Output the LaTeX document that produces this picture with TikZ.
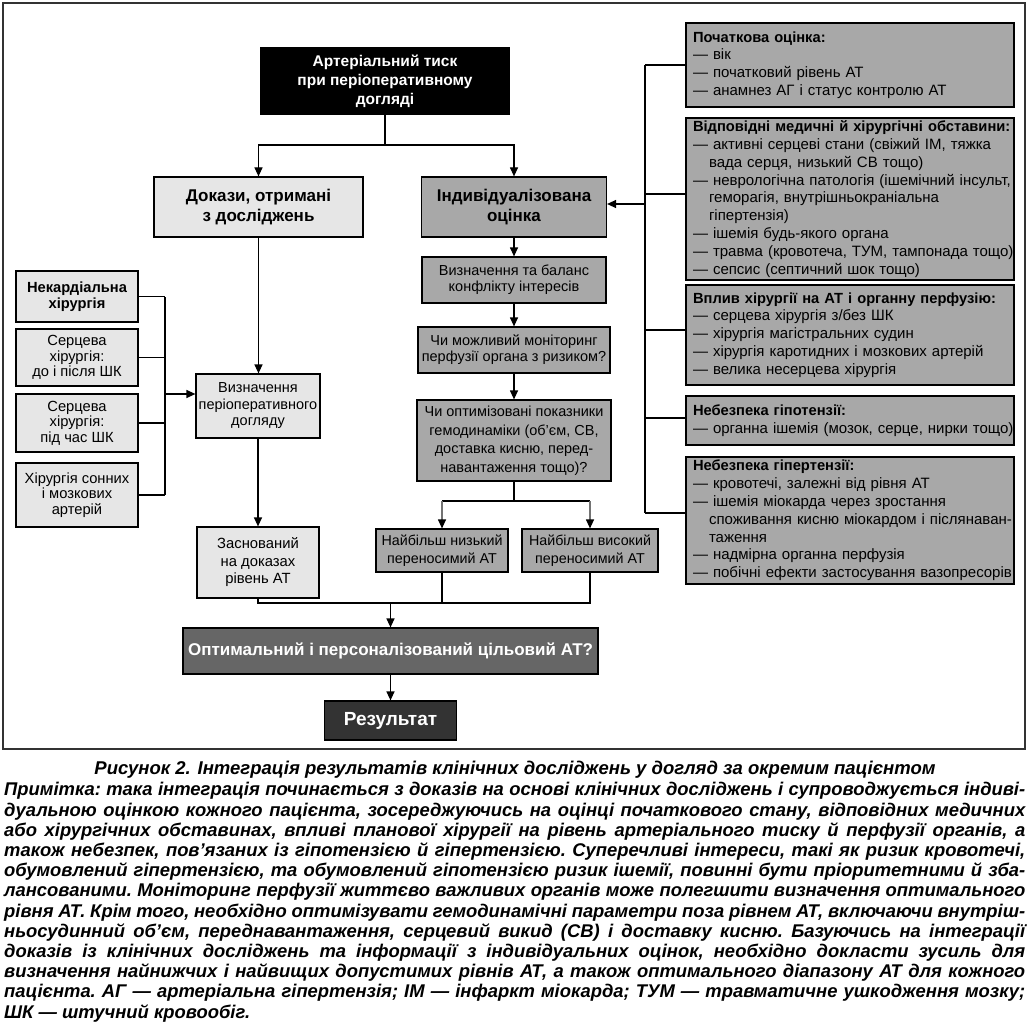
\documentclass[tikz,border=0pt]{standalone}
\usepackage{fontspec}
\setmainfont{Liberation Sans}
\usetikzlibrary{arrows.meta}
\definecolor{lightg}{HTML}{E6E6E6}
\definecolor{midg}{HTML}{A8A8A8}
\definecolor{optg}{HTML}{666666}
\definecolor{resg}{HTML}{333333}
\newcommand\jline[1]{\hbox to 1021pt{#1}}
\newcommand\rl{\hspace*{7pt}}
\newcommand\rc{\hspace*{23pt}}
\newcommand\rh[1]{\rl\mbox{\bfseries\fontsize{14.7}{17.8}\selectfont #1}}
\tikzset{
 box/.style={draw=black, line width=1.2pt, inner sep=0pt, align=center},
 lbox/.style={box, fill=lightg},
 mbox/.style={box, fill=midg},
 small/.style={font=\fontsize{14.5}{16}\selectfont},
 head/.style={font=\bfseries\fontsize{17}{20}\selectfont},
 rbox/.style={draw=black, line width=1.2pt, fill=midg, inner xsep=0pt, inner ysep=0pt,
   text width=328pt, align=left, font=\fontsize{15}{17.8}\selectfont},
 conn/.style={line width=1.2pt},
 arr/.style={conn, -{Triangle[length=9pt,width=8pt]}},
 garr/.style={line width=1.2pt, draw=black!55, -{Triangle[length=9pt,width=8pt,color=black]}},
}
\begin{document}
\begin{tikzpicture}[x=1pt,y=-1pt]
\useasboundingbox (0,0) rectangle (1030,1027);
\fill[white] (0,0) rectangle (1030,1027);
\draw[line width=1.5pt, black!80] (3,3) rectangle (1025,749);

% top
\node[box, fill=black, text=white, font=\bfseries\fontsize{15.5}{19}\selectfont,
  minimum width=248pt, minimum height=66pt] (T) at (385,81)
  {Артеріальний тиск\\при періоперативному\\догляді};
\node[lbox, head, minimum width=209pt, minimum height=60pt] (D) at (258.5,207)
  {Докази, отримані\\з досліджень};
\node[mbox, head, minimum width=185pt, minimum height=60pt] (I) at (514,207)
  {Індивідуалізована\\оцінка};

% middle column
\node[mbox, small, minimum width=184pt, minimum height=46pt] (VB) at (514,280)
  {Визначення та баланс\\конфлікту інтересів};
\node[mbox, small, minimum width=192pt, minimum height=46pt] (MM) at (514,350)
  {Чи можливий моніторинг\\перфузії органа з ризиком?};
\node[mbox, small, font=\fontsize{14.5}{18.5}\selectfont, minimum width=194pt, minimum height=81pt] (OP) at (514,440.5)
  {Чи оптимізовані показники\\гемодинаміки (об’єм, СВ,\\доставка кисню, перед-\\навантаження тощо)?};
\node[mbox, font=\fontsize{14.3}{18}\selectfont, minimum width=132pt, minimum height=43pt] (LO) at (442,550.5)
  {Найбільш низький\\переносимий АТ};
\node[mbox, font=\fontsize{14.3}{18}\selectfont, minimum width=136pt, minimum height=43pt] (HI) at (590,550.5)
  {Найбільш високий\\переносимий АТ};

% left column
\node[lbox, font=\fontsize{14.5}{16.5}\selectfont, minimum width=124pt, minimum height=64pt] (VD) at (258,406)
  {Визначення\\періоперативного\\догляду};
\node[lbox, font=\fontsize{14.8}{17.5}\selectfont, minimum width=122pt, minimum height=71pt] (ZD) at (258,562.5)
  {Заснований\\на доказах\\рівень АТ};
\node[lbox, font=\bfseries\fontsize{14.7}{16}\selectfont, minimum width=122pt, minimum height=51pt] (S1) at (77,296.5)
  {Некардіальна\\хірургія};
\node[lbox, font=\fontsize{14.7}{15.5}\selectfont, minimum width=122pt, minimum height=57pt] (S2) at (77,357.5)
  {Серцева\\хірургія:\\до і після ШК};
\node[lbox, font=\fontsize{14.7}{15.5}\selectfont, minimum width=122pt, minimum height=58pt] (S3) at (77,423)
  {Серцева\\хірургія:\\під час ШК};
\node[lbox, font=\fontsize{14.7}{15.5}\selectfont, minimum width=122pt, minimum height=64pt] (S4) at (77,495)
  {Хірургія сонних\\і мозкових\\артерій};

% bottom
\node[box, fill=optg, text=white, font=\bfseries\fontsize{17}{20}\selectfont,
  minimum width=415pt, minimum height=46pt] (OPT) at (390.5,651)
  {Оптимальний і персоналізований цільовий АТ?};
\node[box, fill=resg, text=white, font=\bfseries\fontsize{19}{22}\selectfont,
  minimum width=132pt, minimum height=39pt] (RES) at (390.5,720.5)
  {Результат};

% right boxes
\node[rbox, minimum height=84pt] (R1) at (850,65)
  {\rh{Початкова оцінка:}\\\rl— вік\\\rl— початковий рівень АТ\\\rl— анамнез АГ і статус контролю АТ};
\node[rbox, minimum height=162pt] (R2) at (850,199)
  {\rh{Відповідні медичні й хірургічні обставини:}\\
   \rl— активні серцеві стани (свіжий ІМ, тяжка\\
   \rc вада серця, низький СВ тощо)\\
   \rl— неврологічна патологія (ішемічний інсульт,\\
   \rc геморагія, внутрішньокраніальна\\
   \rc гіпертензія)\\
   \rl— ішемія будь-якого органа\\
   \rl— травма (кровотеча, ТУМ, тампонада тощо)\\
   \rl— сепсис (септичний шок тощо)};
\node[rbox, minimum height=100pt] (R3) at (850,335)
  {\rh{Вплив хірургії на АТ і органну перфузію:}\\
   \rl— серцева хірургія з/без ШК\\
   \rl— хірургія магістральних судин\\
   \rl— хірургія каротидних і мозкових артерій\\
   \rl— велика несерцева хірургія};
\node[rbox, minimum height=49pt] (R4) at (850,420.5)
  {\rh{Небезпека гіпотензії:}\\\rl— органна ішемія (мозок, серце, нирки тощо)};
\node[rbox, minimum height=127pt] (R5) at (850,520.5)
  {\rh{Небезпека гіпертензії:}\\
   \rl— кровотечі, залежні від рівня АТ\\
   \rl— ішемія міокарда через зростання\\
   \rc споживання кисню міокардом і післянаван-\\
   \rc таження\\
   \rl— надмірна органна перфузія\\
   \rl— побічні ефекти застосування вазопресорів};

% connectors: top
\coordinate (tj) at (385,145);
\draw[conn] (T.south) -- (tj);
\draw[arr] (tj) -| (D.north);
\draw[arr] (tj) -| (I.north);
\draw[arr] (D.south) -- (D.south |- VD.north);
\draw[arr] (VD.south) -- (VD.south |- ZD.north);
\draw[arr] (I.south) -- (VB.north);
\draw[arr] (VB.south) -- (MM.north);
\draw[arr] (MM.south) -- (OP.north);
\coordinate (oj) at (514,501);
\draw[conn] (OP.south) -- (oj);
\draw[conn] (LO.north |- oj) -- (HI.north |- oj);
\draw[garr] (LO.north |- oj) -- (LO.north);
\draw[garr] (HI.north |- oj) -- (HI.north);

% bottom join
\coordinate (bj) at (390.5,603);
\draw[conn] (ZD.south) |- (HI.south |- bj) -- (HI.south);
\draw[conn] (LO.south) -- (LO.south |- bj);
\draw[arr] (bj) -- (OPT.north);
\draw[arr] (OPT.south) -- (RES.north);

% left bracket
\coordinate (lbt) at (165,297);
\coordinate (lbb) at (165,495);
\coordinate (lba) at (165,394);
\draw[conn] (lbt) -- (lbb);
\draw[conn] (S1.east) -- (S1.east -| lbt);
\draw[conn] (S2.east) -- (S2.east -| lbt);
\draw[conn] (S3.east) -- (S3.east -| lbt);
\draw[conn] (S4.east) -- (S4.east -| lbt);
\draw[arr] (lba) -- (lba -| VD.west);

% right bracket
\coordinate (rb1) at (645,65);
\coordinate (rb2) at (645,194);
\coordinate (rb3) at (645,330);
\coordinate (rb4) at (645,418);
\coordinate (rb5) at (645,513);
\coordinate (rba) at (645,204);
\draw[conn] (rb1) -- (rb5);
\draw[conn] (rb1) -- (rb1 -| R1.west);
\draw[conn] (rb2) -- (rb2 -| R2.west);
\draw[conn] (rb3) -- (rb3 -| R3.west);
\draw[conn] (rb4) -- (rb4 -| R4.west);
\draw[conn] (rb5) -- (rb5 -| R5.west);
\draw[arr] (rba) -- (rba -| I.east);

% caption and note
\node[anchor=base, inner sep=0pt, font=\bfseries\itshape\fontsize{18.5}{20}\selectfont] (cap) at (515,774)
  {Рисунок 2. Інтеграція результатів клінічних досліджень у догляд за окремим пацієнтом};
\node[anchor=base west, inner sep=0pt, font=\bfseries\itshape\fontsize{18.4}{20.2}\selectfont] (note) at (4,1018)
  {\vbox{\frenchspacing\hsize=1021pt\baselineskip=20.2pt\parindent=0pt
  \jline{Примітка: така інтеграція починається з доказів на основі клінічних досліджень і супроводжується індиві-}
  \jline{дуальною оцінкою кожного пацієнта, зосереджуючись на оцінці початкового стану, відповідних медичних}
  \jline{або хірургічних обставинах, впливі планової хірургії на рівень артеріального тиску й перфузії органів, а}
  \jline{також небезпек, пов’язаних із гіпотензією й гіпертензією. Суперечливі інтереси, такі як ризик кровотечі,}
  \jline{обумовлений гіпертензією, та обумовлений гіпотензією ризик ішемії, повинні бути пріоритетними й зба-}
  \jline{лансованими. Моніторинг перфузії життєво важливих органів може полегшити визначення оптимального}
  \jline{рівня АТ. Крім того, необхідно оптимізувати гемодинамічні параметри поза рівнем АТ, включаючи внутріш-}
  \jline{ньосудинний об’єм, переднавантаження, серцевий викид (СВ) і доставку кисню. Базуючись на інтеграції}
  \jline{доказів із клінічних досліджень та інформації з індивідуальних оцінок, необхідно докласти зусиль для}
  \jline{визначення найнижчих і найвищих допустимих рівнів АТ, а також оптимального діапазону АТ для кожного}
  \jline{пацієнта. АГ — артеріальна гіпертензія; ІМ — інфаркт міокарда; ТУМ — травматичне ушкодження мозку;}
  \hbox{ШК — штучний кровообіг.}}};
\end{tikzpicture}
\end{document}
